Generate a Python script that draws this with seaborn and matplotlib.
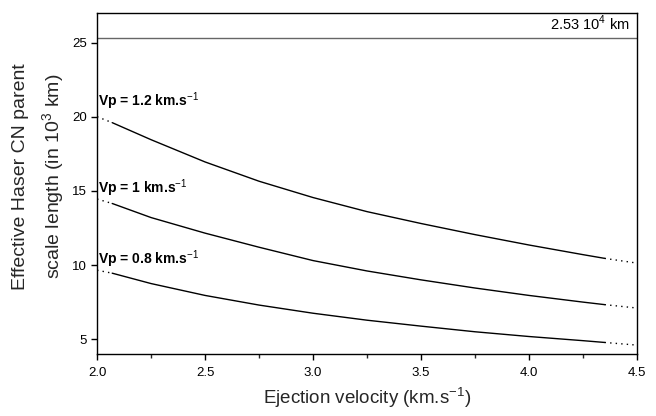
import numpy as np
import pandas as pd
import seaborn as sns
import matplotlib.pyplot as plt
from matplotlib.ticker import MultipleLocator

# ejection velocity grid (km/s) and parent scale lengths (10^3 km)
velocity = [2.0, 2.07, 2.25, 2.5, 2.75, 3.0, 3.25, 3.5, 3.75, 4.0, 4.25, 4.35, 4.5]
vp_12 = [20.0, 19.6, 18.45, 16.95, 15.65, 14.55, 13.6, 12.8, 12.05, 11.35, 10.7, 10.45, 10.13]
vp_10 = [14.45, 14.15, 13.2, 12.15, 11.2, 10.3, 9.6, 9.0, 8.45, 7.95, 7.5, 7.33, 7.1]
vp_08 = [9.65, 9.45, 8.75, 7.95, 7.3, 6.75, 6.28, 5.88, 5.5, 5.18, 4.9, 4.78, 4.6]
series_labels = ['Vp = 1.2 km.s$^{-1}$', 'Vp = 1 km.s$^{-1}$', 'Vp = 0.8 km.s$^{-1}$']
label_y = [20.75, 14.85, 10.05]
daughter_length = 25.3
daughter_text = '2.53 10$^{4}$ km'
solid_range = (2.07, 4.35)

sns.set_theme(style='ticks')
plt.rcParams['font.family'] = ['Liberation Sans', 'DejaVu Sans']
plt.rcParams['mathtext.fontset'] = 'custom'
plt.rcParams['mathtext.rm'] = 'Liberation Sans'

fig = plt.figure(figsize=(6.56, 4.16), dpi=100)
ax = fig.add_axes([0.148, 0.149, 0.823, 0.82])

frames = []
for name, values in zip(series_labels, [vp_12, vp_10, vp_08]):
    frames.append(pd.DataFrame({'v': velocity, 'L': values, 'series': name}))
df = pd.concat(frames, ignore_index=True)

lo, hi = solid_range
for name in series_labels:
    d = df[df['series'] == name]
    solid = d[(d['v'] >= lo) & (d['v'] <= hi)]
    left = d[d['v'] <= lo]
    right = d[d['v'] >= hi]
    sns.lineplot(data=solid, x='v', y='L', color='black', linewidth=1.0, ax=ax)
    for part in (left, right):
        sns.lineplot(data=part, x='v', y='L', color='black', linewidth=1.0,
                     linestyle=(0, (1, 3)), ax=ax)

ax.axhline(daughter_length, color='#666666', linewidth=1.0)
ax.text(4.465, daughter_length + 0.35, daughter_text, ha='right', va='bottom',
        fontsize=10.5, color='black')

for name, y in zip(series_labels, label_y):
    ax.text(2.003, y, name, ha='left', va='baseline', fontsize=10,
            fontweight='bold', color='black')

ax.set_xlim(2.0, 4.5)
ax.set_ylim(4.0, 27.0)
ax.xaxis.set_major_locator(MultipleLocator(0.5))
ax.xaxis.set_minor_locator(MultipleLocator(0.25))
ax.yaxis.set_major_locator(MultipleLocator(5))
ax.xaxis.set_major_formatter(plt.FormatStrFormatter('%.1f'))
ax.tick_params(axis='both', which='major', length=4, width=1, labelsize=9.5,
               direction='out', colors='black')
ax.tick_params(axis='x', which='major', pad=5)
ax.tick_params(axis='x', which='minor', length=3, width=1, direction='out')
for spine in ax.spines.values():
    spine.set_visible(True)
    spine.set_color('black')
    spine.set_linewidth(1.0)

ax.set_xlabel('Ejection velocity (km.s$^{-1}$)', fontsize=13.5, labelpad=5)
ax.set_ylabel('Effective Haser CN parent\nscale length (in 10$^{3}$ km)',
              fontsize=14, linespacing=1.6)
ax.yaxis.set_label_coords(-0.055, 0.52)

fig.savefig('out.png', dpi=100)
